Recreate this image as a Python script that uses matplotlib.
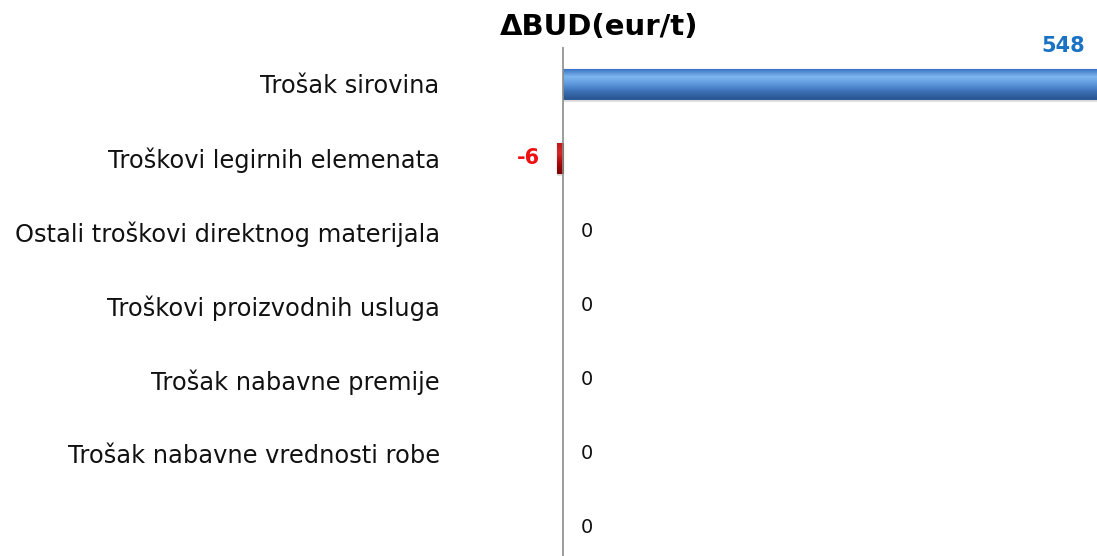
import numpy as np
import matplotlib.pyplot as plt
from matplotlib.colors import LinearSegmentedColormap

plt.rcParams['font.family'] = ['DejaVu Sans']

categories = ['Trošak sirovina', 'Troškovi legirnih elemenata',
              'Ostali troškovi direktnog materijala', 'Troškovi proizvodnih usluga',
              'Trošak nabavne premije', 'Trošak nabavne vrednosti robe', '']
values = [548, -6, 0, 0, 0, 0, 0]

W, H = 1097, 556
fig = plt.figure(figsize=(W / 100, H / 100), dpi=100)
ax = fig.add_axes([480 / W, 0, (W - 480) / W, (H - 47) / H])

y = np.arange(len(categories))
bh = 0.4
blue_cm = LinearSegmentedColormap.from_list('b', ['#3a74c4', '#7fb6ef', '#5d98dc', '#3c70b6', '#2a5590'])
red_cm = LinearSegmentedColormap.from_list('r', ['#c01818', '#d22a2a', '#a80a0a', '#800000'])

bars = ax.barh(y, values, height=bh, color='none', edgecolor='none', zorder=3)
grad = np.linspace(0, 1, 64).reshape(-1, 1)
for b, v in zip(bars, values):
    if v == 0:
        continue
    x0, y0, w, h = b.get_x(), b.get_y(), b.get_width(), b.get_height()
    # soft shadow
    ax.barh(b.get_y() + h / 2 + 0.05, v, height=h, color='#000000', alpha=0.12, zorder=2)
    cm = blue_cm if v > 0 else red_cm
    im = ax.imshow(grad, cmap=cm, aspect='auto', extent=(x0, x0 + w, y0 + h, y0),
                   origin='upper', zorder=3)
    im.set_clip_path(b)
    b.set_edgecolor('#2d5a9a' if v > 0 else '#7a0000')
    b.set_linewidth(0.8)

ax.axvline(0, color='#8c8c8c', lw=1.2, zorder=4)
ax.set_xlim(-83, W - 563)
ax.set_ylim(len(categories) - 1 + 0.39, -0.5)

ax.set_yticks(y)
ax.set_yticklabels(categories, fontsize=17.4, color='#111111')
ax.tick_params(axis='y', length=0, pad=29)
ax.set_xticks([])
for s in ax.spines.values():
    s.set_visible(False)

xmax = ax.get_xlim()[1]
for i, v in enumerate(values):
    if v > 0:
        ax.text(min(v, xmax - 34), i - 0.52, f'{v}', color='#1a72c4', fontsize=15,
                fontweight='bold', ha='center', va='center')
    elif v < 0:
        ax.text(v - 17, i, f'{v}', color='#ee1111', fontsize=15,
                fontweight='bold', ha='right', va='center')
    else:
        ax.text(24, i, f'{v}', color='#111111', fontsize=14, ha='center', va='center')

fig.text(599 / W, 1 - 27 / H, 'ΔBUD(eur/t)', fontsize=21, fontweight='bold',
         ha='center', va='center')

fig.savefig('out.png', dpi=100)
